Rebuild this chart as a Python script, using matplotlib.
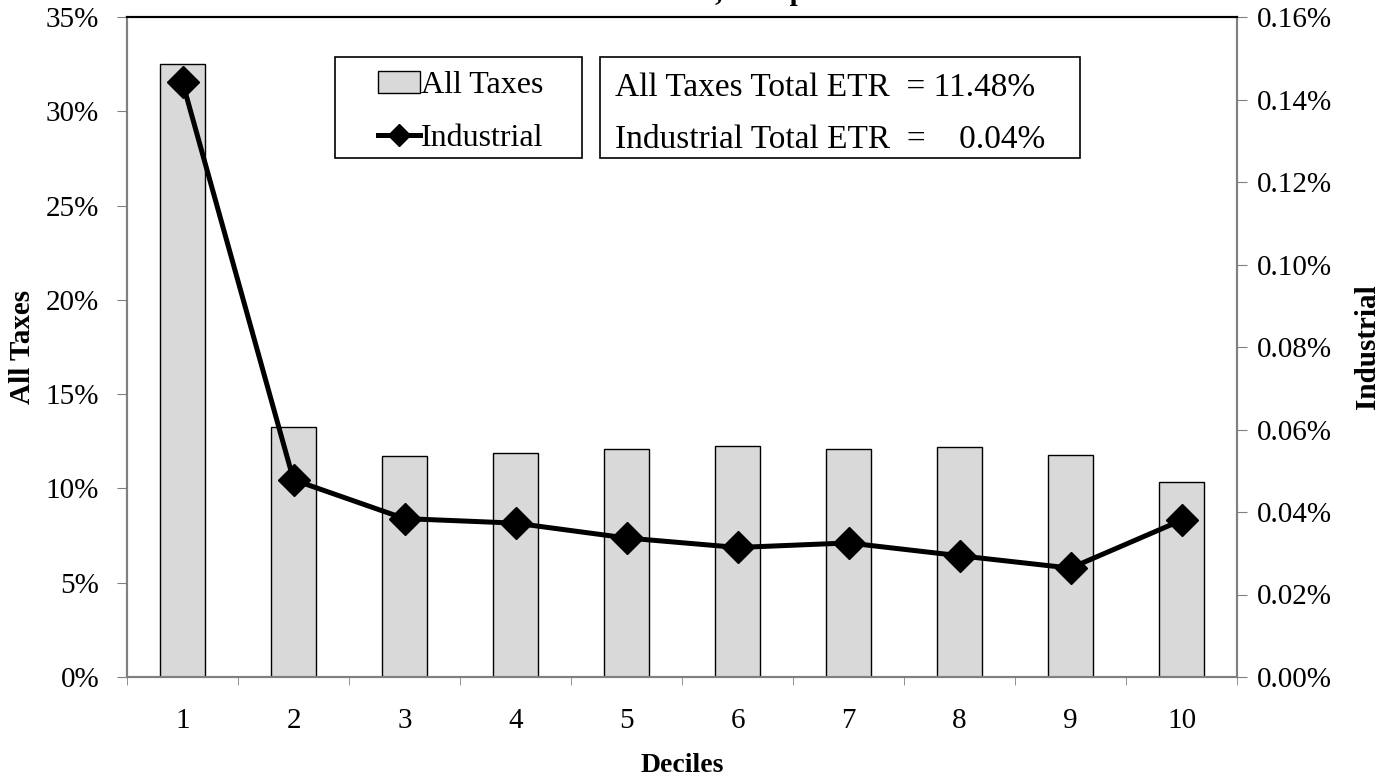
import matplotlib
matplotlib.use("Agg")
import matplotlib.pyplot as plt
from matplotlib.patches import Patch, Rectangle
from matplotlib.lines import Line2D
from matplotlib.ticker import FuncFormatter, MultipleLocator

plt.rcParams['font.family'] = ['Liberation Serif', 'DejaVu Serif']

deciles = [1, 2, 3, 4, 5, 6, 7, 8, 9, 10]
all_taxes = [32.5, 13.27, 11.70, 11.87, 12.10, 12.27, 12.10, 12.20, 11.77, 10.36]
industrial = [0.1442, 0.0478, 0.0384, 0.0373, 0.0337, 0.0314, 0.0325, 0.0294, 0.0264, 0.0380]
title_text = "Effective Tax Rates, Comparison"
box_lines = ["All Taxes Total ETR  = 11.48%", "Industrial Total ETR  =    0.04%"]

W, H = 1392, 780
fig = plt.figure(figsize=(W/100, H/100), dpi=100)
ax = fig.add_axes([127/W, 1-677/H, (1237-127)/W, (677-17)/H])
ax2 = ax.twinx()

ax.bar(deciles, all_taxes, width=0.4, color='#d9d9d9', edgecolor='black', linewidth=1.0, zorder=2)
ax2.plot(deciles, industrial, color='black', linewidth=3.6, marker='D', markersize=16,
         markerfacecolor='black', markeredgecolor='black', zorder=3)

ax.set_xlim(0.5, 10.5)
ax.set_ylim(0, 35)
ax2.set_ylim(0, 0.16)
ax.yaxis.set_major_locator(MultipleLocator(5))
ax2.yaxis.set_major_locator(MultipleLocator(0.02))
ax.yaxis.set_major_formatter(FuncFormatter(lambda v, p: f"{v:.0f}%"))
ax2.yaxis.set_major_formatter(FuncFormatter(lambda v, p: f"{v:.2f}%"))

ax.set_xticks(deciles)
ax.set_xticklabels([str(d) for d in deciles])
ax.set_xticks([d + 0.5 for d in [0] + deciles], minor=True)
ax.tick_params(axis='x', which='major', length=0, pad=22, labelsize=21)
ax.tick_params(axis='x', which='minor', length=6, color='#808080', direction='out')
ax.tick_params(axis='y', length=7, color='#808080', direction='out', labelsize=21, pad=13)
ax2.tick_params(axis='y', length=7, color='#808080', direction='out', labelsize=21, pad=7)

for a in (ax, ax2):
    for s in ('left', 'right', 'bottom'):
        a.spines[s].set_color('#808080')
        a.spines[s].set_linewidth(1.5)
    a.spines['top'].set_color('black')
    a.spines['top'].set_linewidth(1.5)

fig.text(22/W, 1-347/H, "All Taxes", fontsize=21, fontweight='bold', rotation=90,
         ha='center', va='center')
fig.text(1368/W, 1-347/H, "Industrial", fontsize=21, fontweight='bold', rotation=90,
         ha='center', va='center')
fig.text(682/W, 1-765/H, "Deciles", fontsize=20, fontweight='bold', ha='center', va='center')

# legend box
fig.patches.append(Rectangle((335/W, 1-158/H), (582-335)/W, (158-57)/H,
                             transform=fig.transFigure, facecolor='white',
                             edgecolor='black', linewidth=1.2, zorder=5))
handles = [Patch(facecolor='#d9d9d9', edgecolor='black', linewidth=1.0),
           Line2D([0], [0], color='black', linewidth=3.6, marker='D', markersize=11)]
leg = fig.legend(handles, ["All Taxes", "Industrial"], loc='center left',
                 bbox_to_anchor=(378/W, 1-112/H), fontsize=23, frameon=False,
                 handlelength=1.3, handletextpad=0.05, labelspacing=0.75,
                 borderpad=0, borderaxespad=0)
leg.set_zorder(6)

# text box
fig.patches.append(Rectangle((600/W, 1-158/H), (1080-600)/W, (158-57)/H,
                             transform=fig.transFigure, facecolor='white',
                             edgecolor='black', linewidth=1.2, zorder=5))
fig.text(615/W, 1-88/H, box_lines[0], fontsize=24, ha='left', va='center', zorder=7)
fig.text(615/W, 1-140/H, box_lines[1], fontsize=24, ha='left', va='center', zorder=7)

fig.text(680/W, 1.0, title_text, fontsize=21, fontweight='bold', ha='center', va='baseline')

fig.savefig("out.png", dpi=100)
